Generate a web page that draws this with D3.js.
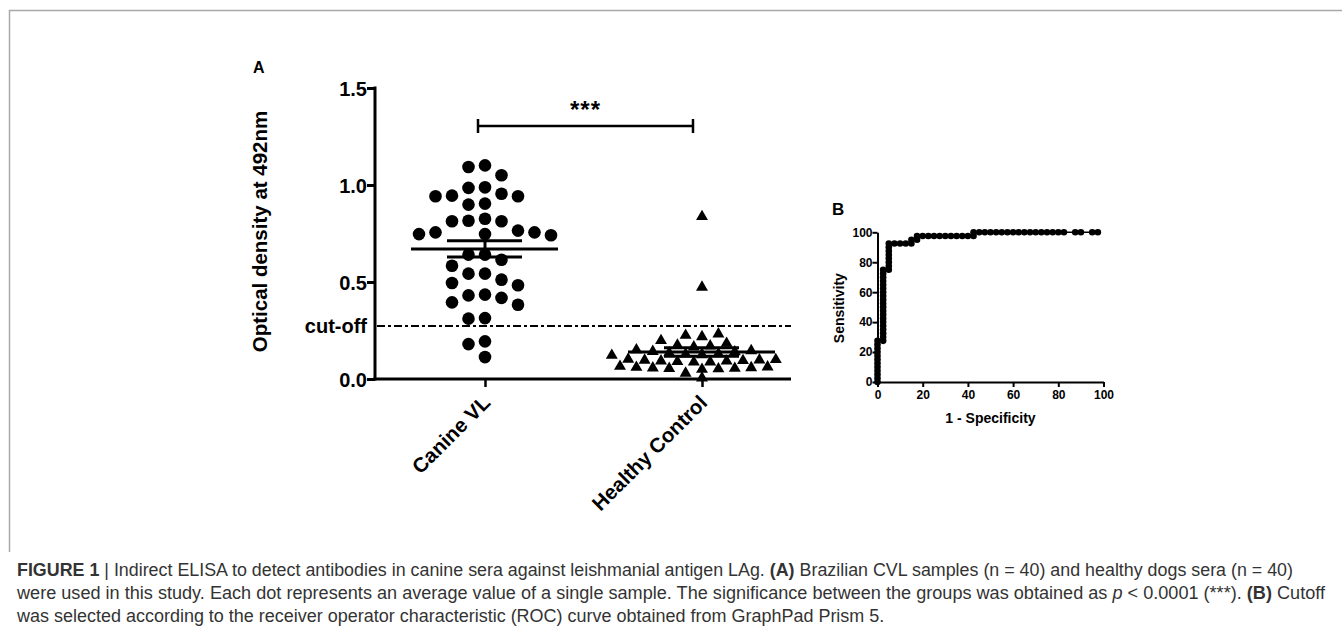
<!DOCTYPE html>
<html><head><meta charset="utf-8">
<script src="https://cdn.jsdelivr.net/npm/d3@7"></script>
<style>
html,body{margin:0;padding:0;background:#fff;}
svg{display:block;}
</style></head>
<body>
<svg id="chart" width="1342" height="635"></svg>
<script>
// ---------- DATA ----------
const categories = ["Canine VL", "Healthy Control"];
const canineVL = [1.093, 1.101, 1.050, 0.985, 0.988, 0.942, 0.942, 0.945, 0.955, 0.899,
  0.904, 0.816, 0.813, 0.826, 0.813, 0.756, 0.747, 0.741, 0.747, 0.756,
  0.765, 0.641, 0.615, 0.641, 0.584, 0.543, 0.512, 0.543, 0.483, 0.495,
  0.431, 0.418, 0.435, 0.383, 0.395, 0.311, 0.314, 0.194, 0.180, 0.113];
const healthyControl = [0.837, 0.473, 0.232, 0.225, 0.218, 0.198, 0.184, 0.175, 0.170, 0.165,
  0.150, 0.146, 0.142, 0.140, 0.135, 0.130, 0.128, 0.125, 0.122,
  0.102, 0.100, 0.098, 0.097, 0.095, 0.093, 0.092, 0.090, 0.088, 0.087,
  0.065, 0.062, 0.060, 0.058, 0.057, 0.055, 0.054, 0.052, 0.050,
  0.030, 0.005];
const cutoffValue = 0.273;
const yTicksA = [0, 0.5, 1.0, 1.5];
const significanceLabel = "***";

const rocFPR = [0,0,0,0,0,0,0,0,0,0,0,0,
  2.5,2.5,2.5,2.5,2.5,2.5,2.5,2.5,2.5,2.5,2.5,2.5,2.5,2.5,2.5,2.5,2.5,2.5,2.5,2.5,
  5,5,5,5,5,5,5,5,
  7.5,10,12.5,15,15,17.5,17.5,
  20,22.5,25,27.5,30,32.5,35,37.5,40,42.5,
  42.5,45,47.5,50,52.5,55,57.5,60,62.5,65,67.5,70,72.5,75,77.5,80,82.5,
  87.5,90,95,97.5];
const rocSens = [0,2.5,5,7.5,10,12.5,15,17.5,20,22.5,25,27.5,
  27.5,30,32.5,35,37.5,40,42.5,45,47.5,50,52.5,55,57.5,60,62.5,65,67.5,70,72.5,75,
  75,77.5,80,82.5,85,87.5,90,92.5,
  92.5,92.5,92.5,92.5,95,95,97.5,
  97.5,97.5,97.5,97.5,97.5,97.5,97.5,97.5,97.5,97.5,
  100,100,100,100,100,100,100,100,100,100,100,100,100,100,100,100,100,
  100,100,100,100];
const rocTicks = [0, 20, 40, 60, 80, 100];

const captionLines = [
  [{t:"FIGURE 1", b:true}, {t:" | Indirect ELISA to detect antibodies in canine sera against leishmanial antigen LAg. "}, {t:"(A)", b:true}, {t:" Brazilian CVL samples (n = 40) and healthy dogs sera (n = 40)"}],
  [{t:"were used in this study. Each dot represents an average value of a single sample. The significance between the groups was obtained as "}, {t:"p", i:true}, {t:" < 0.0001 (***). "}, {t:"(B)", b:true}, {t:" Cutoff"}],
  [{t:"was selected according to the receiver operator characteristic (ROC) curve obtained from GraphPad Prism 5."}]
];

// ---------- DRAW ----------
const svg = d3.select("#chart");
const FONT = "Liberation Sans, Arial, Helvetica, sans-serif";

// frame
svg.append("path").attr("d", "M9.5,552 L9.5,10.5 L1342,10.5")
  .attr("fill", "none").attr("stroke", "#a9a9a9").attr("stroke-width", 1.5);

// ===== Panel A =====
const gA = svg.append("g");
const yA = d3.scaleLinear().domain([0, 1.5]).range([379, 88]);
const xA = d3.scalePoint().domain(categories).range([485, 702]);
const axisLeftX = 375, axisRightX = 791;

gA.append("text").attr("x", 253).attr("y", 73).text("A")
  .attr("font-family", FONT).attr("font-weight", "bold").attr("font-size", 16);

const yAxisA = gA.append("g").attr("transform", `translate(${axisLeftX},0)`)
  .call(d3.axisLeft(yA).tickValues(yTicksA).tickFormat(d3.format(".1f")).tickSize(8).tickSizeOuter(0));
yAxisA.select(".domain").attr("stroke-width", 3).attr("d", `M0,${yA(1.5)-1.5}V${yA(0)+1.5}`);
yAxisA.selectAll(".tick line").attr("stroke-width", 3);
yAxisA.selectAll(".tick text").attr("font-family", FONT).attr("font-weight", "bold")
  .attr("font-size", 20).attr("fill", "#000").attr("x", -8).attr("dy", "0.36em");

const xAxisA = gA.append("g").attr("transform", `translate(0,${yA(0)})`)
  .call(d3.axisBottom(xA).tickSize(8).tickSizeOuter(0));
xAxisA.select(".domain").attr("stroke-width", 3).attr("d", `M${axisLeftX-1.5},0H${axisRightX}`);
xAxisA.selectAll(".tick line").attr("stroke-width", 2.5);
xAxisA.selectAll(".tick text").attr("font-family", FONT).attr("font-weight", "bold")
  .attr("font-size", 20.5).attr("fill", "#000")
  .attr("text-anchor", "end").attr("y", 0).attr("dy", 0)
  .attr("transform", "translate(6,25) rotate(-45)");

// y label
gA.append("text").attr("transform", `translate(267,231.5) rotate(-90)`)
  .attr("text-anchor", "middle").attr("font-family", FONT).attr("font-weight", "bold")
  .attr("font-size", 20.5).text("Optical density at 492nm");

// cut-off line
gA.append("line").attr("x1", axisLeftX + 2).attr("x2", axisRightX)
  .attr("y1", yA(cutoffValue)).attr("y2", yA(cutoffValue))
  .attr("stroke", "#000").attr("stroke-width", 2).attr("stroke-dasharray", "8,3,3,3");
gA.append("text").attr("x", 367).attr("y", yA(cutoffValue)).attr("dy", "0.36em")
  .attr("text-anchor", "end").attr("font-family", FONT).attr("font-weight", "bold")
  .attr("font-size", 20).text("cut-off");

// beeswarm layout
function swarm(values, step, rx, ry, descending) {
  const order = values.map((v, i) => i)
    .sort((a, b) => descending ? values[b] - values[a] : values[a] - values[b]);
  const placed = [];
  const out = new Array(values.length);
  order.forEach(i => {
    const y = yA(values[i]);
    let k = 0;
    for (let n = 0; n < 60; n++) {
      const cand = n === 0 ? 0 : (n % 2 ? -Math.ceil(n / 2) : Math.ceil(n / 2));
      const dx = cand * step;
      const hit = placed.some(p => {
        const a = (p.dx - dx) / rx, b = (p.y - y) / ry;
        return a * a + b * b < 1;
      });
      if (!hit) { k = cand; break; }
    }
    placed.push({dx: k * step, y});
    out[i] = k * step;
  });
  return out;
}

const canOff = swarm(canineVL, 16.5, 15, 15, true);
const hOff = swarm(healthyControl, 8.2, 14, 8.5, false);

gA.append("g").selectAll("circle").data(canineVL).join("circle")
  .attr("cx", (d, i) => xA(categories[0]) + canOff[i]).attr("cy", d => yA(d))
  .attr("r", 6.3).attr("fill", "#000");

const tri = d3.symbol().type(d3.symbolTriangle).size(62);
gA.append("g").selectAll("path").data(healthyControl).join("path")
  .attr("d", tri)
  .attr("transform", (d, i) => `translate(${xA(categories[1]) + hOff[i]},${yA(d)})`)
  .attr("fill", "#000");

// mean and SEM
function stats(arr) {
  const m = d3.mean(arr);
  const sem = d3.deviation(arr) / Math.sqrt(arr.length);
  return {m, sem};
}
[canineVL, healthyControl].forEach((arr, i) => {
  const s = stats(arr);
  const cx = xA(categories[i]);
  const g = gA.append("g").attr("stroke", "#000").attr("stroke-width", 3);
  g.append("line").attr("x1", cx - 74).attr("x2", cx + 73).attr("y1", yA(s.m)).attr("y2", yA(s.m));
  g.append("line").attr("x1", cx - 38).attr("x2", cx + 37).attr("y1", yA(s.m + s.sem)).attr("y2", yA(s.m + s.sem));
  g.append("line").attr("x1", cx - 38).attr("x2", cx + 37).attr("y1", yA(s.m - s.sem)).attr("y2", yA(s.m - s.sem));
  g.append("line").attr("x1", cx).attr("x2", cx).attr("y1", yA(s.m + s.sem)).attr("y2", yA(s.m - s.sem));
});

// significance bracket
const bx1 = xA(categories[0]) - 7, bx2 = xA(categories[1]) - 9, by = 126;
const gb = gA.append("g").attr("stroke", "#000");
gb.append("line").attr("x1", bx1).attr("x2", bx2).attr("y1", by).attr("y2", by).attr("stroke-width", 2.5);
gb.append("line").attr("x1", bx1).attr("x2", bx1).attr("y1", by - 7).attr("y2", by + 7).attr("stroke-width", 2.5);
gb.append("line").attr("x1", bx2).attr("x2", bx2).attr("y1", by - 7).attr("y2", by + 7).attr("stroke-width", 2.5);
gA.append("text").attr("x", (bx1 + bx2) / 2).attr("y", 118).attr("text-anchor", "middle")
  .attr("font-family", FONT).attr("font-weight", "bold").attr("font-size", 24)
  .attr("letter-spacing", 1).text(significanceLabel);

// ===== Panel B =====
const gB = svg.append("g");
const xB = d3.scaleLinear().domain([0, 100]).range([877.5, 1103.5]);
const yB = d3.scaleLinear().domain([0, 100]).range([382, 232.3]);

gB.append("text").attr("x", 832).attr("y", 215).text("B")
  .attr("font-family", FONT).attr("font-weight", "bold").attr("font-size", 17);

const xAxisB = gB.append("g").attr("transform", `translate(0,${yB(0)})`)
  .call(d3.axisBottom(xB).tickValues(rocTicks).tickSize(5).tickSizeOuter(0));
const yAxisB = gB.append("g").attr("transform", `translate(${xB(0)},0)`)
  .call(d3.axisLeft(yB).tickValues(rocTicks).tickSize(5).tickSizeOuter(0));
[xAxisB, yAxisB].forEach(ax => {
  ax.select(".domain").attr("stroke-width", 2);
  ax.selectAll(".tick line").attr("stroke-width", 2);
  ax.selectAll(".tick text").attr("font-family", FONT).attr("font-weight", "bold")
    .attr("font-size", 12).attr("fill", "#000");
});
xAxisB.selectAll(".tick text").attr("y", 8);
yAxisB.selectAll(".tick text").attr("x", -5);

gB.append("text").attr("x", (xB(0) + xB(100)) / 2).attr("y", 423).attr("text-anchor", "middle")
  .attr("font-family", FONT).attr("font-weight", "bold").attr("font-size", 14).text("1 - Specificity");
gB.append("text").attr("transform", `translate(844,${(yB(0)+yB(100))/2 + 1}) rotate(-90)`)
  .attr("text-anchor", "middle").attr("font-family", FONT).attr("font-weight", "bold")
  .attr("font-size", 14).text("Sensitivity");

const rocPts = rocFPR.map((x, i) => [x, rocSens[i]]);
gB.append("path").datum(rocPts)
  .attr("d", d3.line().x(d => xB(d[0])).y(d => yB(d[1])))
  .attr("fill", "none").attr("stroke", "#000").attr("stroke-width", 1.5);
gB.append("g").selectAll("circle").data(rocPts).join("circle")
  .attr("cx", d => xB(d[0])).attr("cy", d => yB(d[1])).attr("r", 3.3).attr("fill", "#000");

// ===== Caption =====
const capX = 17, capY = [576, 599, 622];
const capEnd = [1293, 1325];
const texts = captionLines.map((line, li) => {
  const t = svg.append("text").attr("x", capX).attr("y", capY[li])
    .attr("font-family", "Liberation Sans Narrow, Arial Narrow, Liberation Sans, sans-serif")
    .attr("font-size", 17.5).attr("fill", "#333");
  line.forEach(seg => {
    t.append("tspan").text(seg.t)
      .attr("font-weight", seg.b ? "bold" : null)
      .attr("font-style", seg.i ? "italic" : null);
  });
  return t;
});
const nat = texts.map(t => t.node().getComputedTextLength());
const factor = ((capEnd[0] - capX) / nat[0] + (capEnd[1] - capX) / nat[1]) / 2;
texts.forEach((t, i) => {
  const L = i < 2 ? capEnd[i] - capX : nat[i] * factor;
  t.attr("textLength", L).attr("lengthAdjust", "spacingAndGlyphs");
});
</script>
</body></html>
